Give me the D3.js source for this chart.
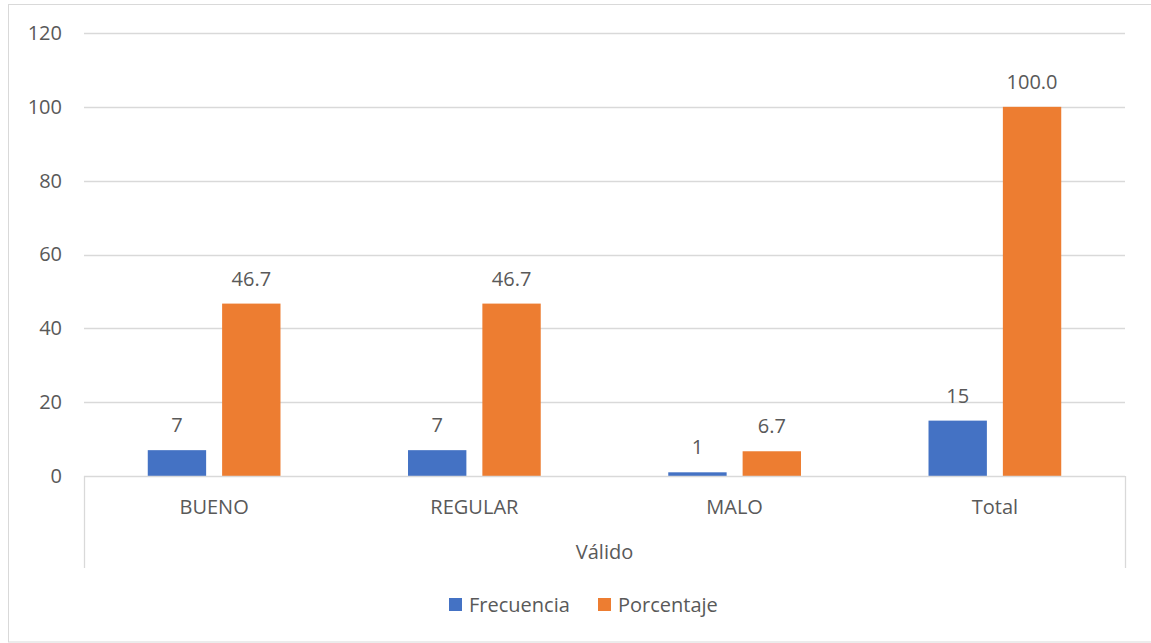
<!DOCTYPE html>
<html>
<head>
<meta charset="utf-8">
<script src="https://cdn.jsdelivr.net/npm/d3@7"></script>
<style>
  html, body { margin: 0; padding: 0; background: #fff; }
  svg { display: block; }
  text { font-family: "Open Sans", "Liberation Sans", sans-serif; fill: #595959; }
</style>
</head>
<body>
<svg id="chart" width="1151" height="643"></svg>
<script>
// Categories and series
const categories = ["BUENO", "REGULAR", "MALO", "Total"];
const frecuencia = [7, 7, 1, 15];
const porcentaje = [46.7, 46.7, 6.7, 100.0];
const seriesNames = ["Frecuencia", "Porcentaje"];
const seriesColors = ["#4472C4", "#ED7D31"];
const yTicks = [0, 20, 40, 60, 80, 100, 120];
const groupTitle = "Válido";

const svg = d3.select("#chart");
const W = 1151, H = 643;
const plot = { left: 84, right: 1125, top: 33, bottom: 476 };
const FS = 20;

// Outer chart frame
svg.append("rect")
  .attr("x", 8.5).attr("y", 4.5)
  .attr("width", W).attr("height", 637.5)
  .attr("fill", "none").attr("stroke", "#d9d9d9").attr("stroke-width", 1);

const y = d3.scaleLinear().domain([0, 120]).range([plot.bottom, plot.top]);
const x0 = d3.scaleBand().domain(categories).range([plot.left, plot.right]).paddingInner(0).paddingOuter(0);
// each group occupies the middle part of its band
const groupFrac = 0.51;
const x1 = d3.scaleBand().domain(seriesNames)
  .range([0, x0.bandwidth() * groupFrac]).paddingInner(0.215);

// Gridlines
svg.append("g")
  .selectAll("line")
  .data(yTicks.filter(d => d > 0))
  .join("line")
  .attr("x1", plot.left).attr("x2", plot.right)
  .attr("y1", d => Math.round(y(d)) + 0.5).attr("y2", d => Math.round(y(d)) + 0.5)
  .attr("stroke", "#d9d9d9").attr("stroke-width", 1.3);

// Y axis labels
const yAxis = d3.axisLeft(y).tickValues(yTicks).tickSize(0).tickPadding(0);
const yg = svg.append("g").attr("transform", `translate(62,0)`).call(yAxis);
yg.select(".domain").remove();
yg.selectAll("text").attr("font-size", FS).style("fill", "#595959")
  .style("font-family", '"Open Sans", sans-serif');

// Bars
const data = categories.map((c, i) => ({ cat: c, vals: [frecuencia[i], porcentaje[i]] }));
const groups = svg.append("g").selectAll("g")
  .data(data).join("g")
  .attr("transform", d => `translate(${x0(d.cat) + x0.bandwidth() * (1 - groupFrac) / 2},0)`);

groups.selectAll("rect")
  .data(d => d.vals.map((v, j) => ({ v, s: seriesNames[j], j })))
  .join("rect")
  .attr("x", d => x1(d.s))
  .attr("width", x1.bandwidth())
  .attr("y", d => y(d.v))
  .attr("height", d => y(0) - y(d.v))
  .attr("fill", d => seriesColors[d.j]);

// Value labels
const fmt = (v, j) => j === 0 ? d3.format("d")(v) : d3.format(".1f")(v);
groups.selectAll("text.val")
  .data(d => d.vals.map((v, j) => ({ v, s: seriesNames[j], j })))
  .join("text")
  .attr("class", "val")
  .attr("x", d => x1(d.s) + x1.bandwidth() / 2)
  .attr("y", d => y(d.v) - 18)
  .attr("text-anchor", "middle")
  .attr("font-size", FS)
  .text(d => fmt(d.v, d.j));

// Category axis line and outer separators
const axisG = svg.append("g");
axisG.append("line")
  .attr("x1", plot.left).attr("x2", plot.right)
  .attr("y1", plot.bottom + 0.5).attr("y2", plot.bottom + 0.5)
  .attr("stroke", "#d9d9d9").attr("stroke-width", 1.3);
[plot.left, plot.right].forEach(xx => {
  axisG.append("line")
    .attr("x1", xx + 0.5).attr("x2", xx + 0.5)
    .attr("y1", plot.bottom).attr("y2", 568)
    .attr("stroke", "#d9d9d9").attr("stroke-width", 1.3);
});

// Category labels
axisG.selectAll("text.cat")
  .data(categories).join("text")
  .attr("class", "cat")
  .attr("x", d => x0(d) + x0.bandwidth() / 2)
  .attr("y", 514)
  .attr("text-anchor", "middle")
  .attr("font-size", FS)
  .text(d => d);

// Group title
axisG.append("text")
  .attr("x", (plot.left + plot.right) / 2)
  .attr("y", 559)
  .attr("text-anchor", "middle")
  .attr("font-size", FS)
  .text(groupTitle);

// Legend
const legend = svg.append("g");
const legendItems = [{ x: 449 }, { x: 598 }];
seriesNames.forEach((name, i) => {
  const g = legend.append("g").attr("transform", `translate(${legendItems[i].x},598)`);
  g.append("rect").attr("width", 13).attr("height", 13).attr("fill", seriesColors[i]);
  g.append("text").attr("x", 20).attr("y", 13.5).attr("font-size", FS).text(name);
});
</script>
</body>
</html>
